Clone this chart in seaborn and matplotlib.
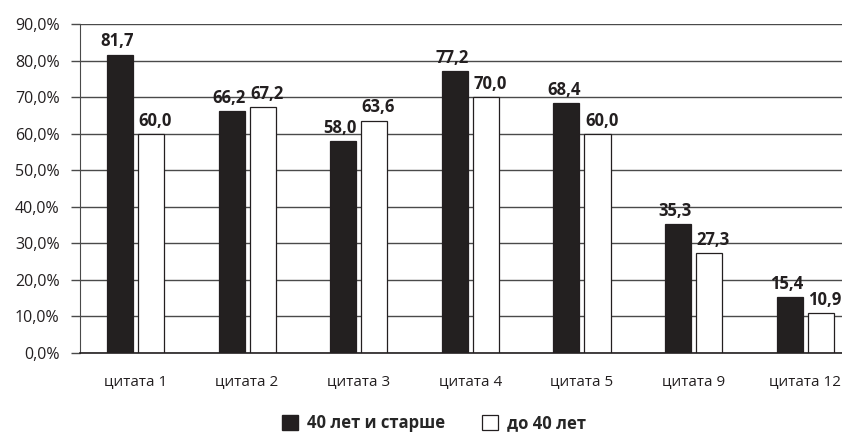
import seaborn as sns
import matplotlib.pyplot as plt
import pandas as pd
from matplotlib.patches import Patch
from matplotlib.ticker import FuncFormatter

categories = ['цитата 1', 'цитата 2', 'цитата 3', 'цитата 4', 'цитата 5', 'цитата 9', 'цитата 12']
older = [81.7, 66.2, 58.0, 77.2, 68.4, 35.3, 15.4]
younger = [60.0, 67.2, 63.6, 70.0, 60.0, 27.3, 10.9]
groups = ['40 лет и старше', 'до 40 лет']

df = pd.DataFrame({
    'quote': categories * 2,
    'value': older + younger,
    'group': [groups[0]] * len(categories) + [groups[1]] * len(categories),
})

sns.set_style('white')
plt.rcParams['font.family'] = ['Open Sans', 'DejaVu Sans']

dark = '#231f20'
grid = '#4a4a4a'

fig = plt.figure(figsize=(8.42, 4.32), dpi=100)
# область графика уходит чуть за правый край картинки, как в оригинале
ax = fig.add_axes([0.0946, 0.183, 0.928, 0.761])

ax.set_axisbelow(True)
ax.yaxis.grid(True, color=grid, linewidth=1)

sns.barplot(data=df, x='quote', y='value', hue='group', ax=ax,
            palette=[dark, 'white'], width=0.556, gap=0.16,
            edgecolor=dark, linewidth=0.9, legend=False)

# подписи значений: чёрные чуть влево, белые чуть вправо, чтобы не слипались
shift = [-2, 3]
for cont, dx in zip(ax.containers, shift):
    for bar, v in zip(cont, cont.datavalues):
        ax.annotate(f'{v:.1f}'.replace('.', ','),
                    (bar.get_x() + bar.get_width() / 2, bar.get_height()),
                    xytext=(dx, 3), textcoords='offset points',
                    ha='center', va='bottom', fontsize=12, fontweight='bold',
                    color=dark, annotation_clip=False)

ax.set_ylim(0, 90)
ax.set_yticks(range(0, 91, 10))
ax.yaxis.set_major_formatter(FuncFormatter(lambda v, p: f'{v:.1f}%'.replace('.', ',')))
ax.set_xlim(-0.5, len(categories) - 0.5)
ax.set_xlabel('')
ax.set_ylabel('')

for s in ['top', 'right']:
    ax.spines[s].set_visible(False)
ax.spines['left'].set_color(grid)
ax.spines['bottom'].set_color(dark)
ax.spines['bottom'].set_linewidth(1.2)

ax.tick_params(axis='y', left=True, length=6.5, width=1, color=grid,
               pad=8, labelsize=11.5, labelcolor=dark)
ax.tick_params(axis='x', bottom=False, pad=12, labelsize=11, labelcolor=dark)

handles = [Patch(facecolor=dark, edgecolor=dark, label=groups[0]),
           Patch(facecolor='white', edgecolor=dark, linewidth=0.9, label=groups[1])]
fig.legend(handles=handles, loc='lower center', bbox_to_anchor=(0.515, -0.035),
           ncol=2, frameon=False, handlelength=1.0, handleheight=1.0,
           handletextpad=0.5, columnspacing=2.2,
           prop={'size': 12, 'weight': 'bold'})

fig.savefig('out.png', dpi=100)
